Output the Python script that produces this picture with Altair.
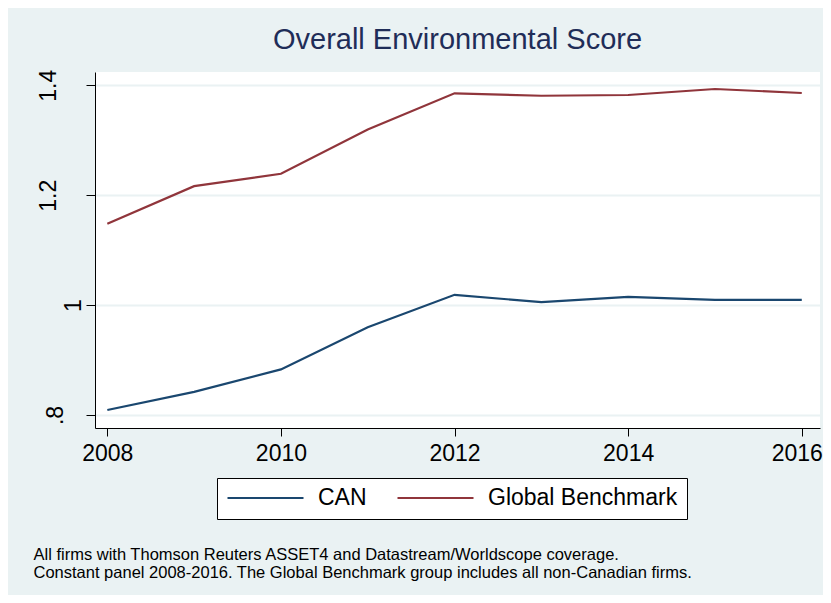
import altair as alt
import pandas as pd

years = [2008, 2009, 2010, 2011, 2012, 2013, 2014, 2015, 2016]
can_scores = [0.809, 0.842, 0.883, 0.9595, 1.0187, 1.0053, 1.0151, 1.0096, 1.0096]
global_scores = [1.148, 1.2164, 1.239, 1.3196, 1.3854, 1.381, 1.3823, 1.3933, 1.386]
series = ["CAN", "Global Benchmark"]
colors = ["#1a476f", "#90353b"]
title_text = "Overall Environmental Score"
notes = [
    "All firms with Thomson Reuters ASSET4 and Datastream/Worldscope coverage.",
    "Constant panel 2008-2016. The Global Benchmark group includes all non-Canadian firms.",
]
y_ticks = [0.8, 1.0, 1.2, 1.4]
x_ticks = [2008, 2010, 2012, 2014, 2016]

df = pd.DataFrame({
    "year": years + years,
    "score": can_scores + global_scores,
    "group": [series[0]] * len(years) + [series[1]] * len(years),
})

FONT = "Liberation Sans"

y_label_pad = {
    "condition": [
        {"test": "datum.value == 1", "value": 6},
        {"test": "datum.value < 0.9", "value": 24},
    ],
    "value": 31,
}
x_label_offset = {
    "condition": {"test": "datum.value == 2016", "value": -5},
    "value": 0,
}

chart = alt.Chart(df).mark_line(strokeWidth=2.2).encode(
    x=alt.X(
        "year:Q",
        scale=alt.Scale(domain=[2007.858, 2016.21], nice=False, zero=False),
        axis=alt.Axis(
            values=x_ticks, format="d", grid=False,
            tickSize=8, tickColor="black", domainColor="black",
            labelPadding=6, labelFontSize=23, labelFont=FONT, labelColor="black",
            labelOffset=x_label_offset,
            title=notes, titleAnchor="start", titleAlign="left",
            titleX=-62, titleY=131, titleBaseline="alphabetic",
            titleFontSize=16.5, titleFontWeight="normal", titleFont=FONT,
            titleColor="black", titleLineHeight=18,
        ),
    ),
    y=alt.Y(
        "score:Q",
        scale=alt.Scale(domain=[0.7763, 1.4242], nice=False, zero=False),
        axis=alt.Axis(
            values=y_ticks, format="~g",
            labelExpr="replace(datum.label, '0.', '.')",
            labelAngle=270, labelAlign="center", labelBaseline="alphabetic",
            tickSize=9, tickColor="black", domainColor="black",
            labelPadding=y_label_pad, labelFontSize=23, labelFont=FONT,
            labelColor="black",
            grid=True, gridColor="#eaf2f3", gridWidth=2,
            title=None,
        ),
    ),
    color=alt.Color(
        "group:N",
        scale=alt.Scale(domain=series, range=colors),
        legend=alt.Legend(
            title=None, orient="none", legendX=122, legendY=406,
            direction="horizontal", fillColor="white", strokeColor="black",
            padding=9, cornerRadius=0, clipHeight=22,
            labelFontSize=23, labelFont=FONT, labelColor="black", labelLimit=400,
            symbolType="stroke", symbolSize=5776, symbolStrokeWidth=2.2,
            labelOffset=13, columnPadding=29,
        ),
    ),
).properties(
    width=725,
    height=356,
    title=alt.Title(
        title_text, fontSize=29, font=FONT, color="#1f2d58",
        fontWeight="normal", anchor="middle", frame="group",
        baseline="alphabetic", offset=21, dy=30,
    ),
    background="#eaf2f3",
    autosize=alt.AutoSizeParams(type="none"),
    padding={"left": 87, "top": 64, "right": 3, "bottom": 167},
).configure_view(fill="white", stroke=None)

chart.save("out.html", embed_options={"renderer": "svg", "actions": False})
